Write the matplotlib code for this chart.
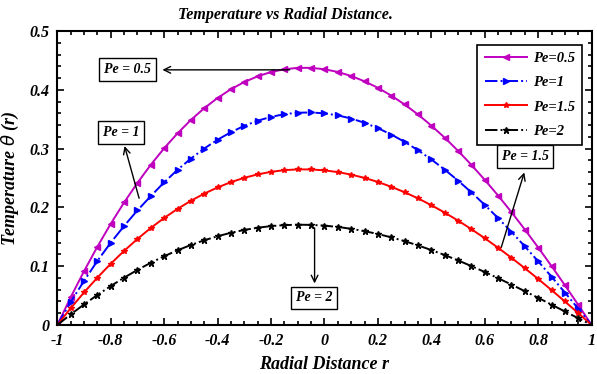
import numpy as np
import matplotlib
matplotlib.use('Agg')
import matplotlib.pyplot as plt
from matplotlib.font_manager import FontProperties

# radial positions (step 0.05)
r = np.round(np.arange(-1.0, 1.0001, 0.05), 2)

theta_pe05 = [0.0, 0.0471, 0.0915, 0.1332, 0.1722, 0.2084, 0.2418, 0.2726, 0.3007, 0.3260,
              0.3488, 0.3688, 0.3862, 0.4011, 0.4133, 0.4230, 0.4303, 0.4350, 0.4374, 0.4374,
              0.4350, 0.4304, 0.4235, 0.4145, 0.4034, 0.3902, 0.3751, 0.3581, 0.3392, 0.3186,
              0.2963, 0.2723, 0.2469, 0.2201, 0.1919, 0.1624, 0.1318, 0.1002, 0.0676, 0.0342, 0.0]
theta_pe1 = [0.0, 0.0390, 0.0750, 0.1090, 0.1400, 0.1685, 0.1950, 0.2193, 0.2427, 0.2640,
             0.2831, 0.3002, 0.3152, 0.3280, 0.3388, 0.3475, 0.3540, 0.3586, 0.3611, 0.3615,
             0.3600, 0.3565, 0.3512, 0.3439, 0.3348, 0.3240, 0.3115, 0.2973, 0.2816, 0.2643,
             0.2456, 0.2256, 0.2043, 0.1818, 0.1583, 0.1337, 0.1083, 0.0821, 0.0552, 0.0278, 0.0]
theta_pe15 = [0.0, 0.0285, 0.0554, 0.0806, 0.1042, 0.1261, 0.1464, 0.1651, 0.1821, 0.1975,
              0.2113, 0.2235, 0.2340, 0.2430, 0.2504, 0.2562, 0.2605, 0.2634, 0.2647, 0.2646,
              0.2630, 0.2601, 0.2558, 0.2502, 0.2433, 0.2351, 0.2258, 0.2154, 0.2038, 0.1912,
              0.1776, 0.1630, 0.1476, 0.1313, 0.1143, 0.0966, 0.0783, 0.0594, 0.0400, 0.0202, 0.0]
theta_pe2 = [0.0, 0.0180, 0.0350, 0.0511, 0.0663, 0.0805, 0.0937, 0.1059, 0.1170, 0.1271,
             0.1361, 0.1441, 0.1510, 0.1569, 0.1617, 0.1655, 0.1682, 0.1699, 0.1706, 0.1703,
             0.1690, 0.1668, 0.1636, 0.1596, 0.1548, 0.1491, 0.1426, 0.1354, 0.1275, 0.1190,
             0.1099, 0.1002, 0.0901, 0.0796, 0.0687, 0.0575, 0.0462, 0.0346, 0.0230, 0.0115, 0.0]

xticks = [-1, -0.8, -0.6, -0.4, -0.2, 0, 0.2, 0.4, 0.6, 0.8, 1]
xticklabels = ['-1', '-0.8', '-0.6', '-0.4', '-0.2', '0', '0.2', '0.4', '0.6', '0.8', '1']
yticks = [0, 0.1, 0.2, 0.3, 0.4, 0.5]
yticklabels = ['0', '0.1', '0.2', '0.3', '0.4', '0.5']

font = dict(family='Liberation Serif', weight='bold', style='italic')

fig = plt.figure(figsize=(5.97, 3.74), dpi=100)
ax = fig.add_axes([0.096, 0.131, 0.895, 0.786])

ax.plot(r, theta_pe05, '-', color='#BF00BF', marker='<', markersize=4, lw=1.4, label='Pe=0.5')
ax.plot(r, theta_pe1, '-.', color='#0000FF', marker='>', markersize=4, lw=1.4, label='Pe=1')
ax.plot(r, theta_pe15, '-', color='#FF0000', marker='*', markersize=4, lw=1.4, label='Pe=1.5')
ax.plot(r, theta_pe2, '-.', color='black', marker='*', markersize=4.5, lw=1.4, label='Pe=2')

ax.set_xlim(-1, 1)
ax.set_ylim(0, 0.5)
ax.set_xticks(xticks)
ax.set_xticklabels(xticklabels)
ax.set_yticks(yticks)
ax.set_yticklabels(yticklabels)
ax.set_xticks(np.arange(-1, 1.001, 0.05), minor=True)
ax.set_yticks(np.arange(0, 0.501, 0.02), minor=True)
ax.tick_params(which='both', direction='in', top=True, right=True, width=1.2)
ax.tick_params(which='major', length=5, pad=6)
ax.tick_params(which='minor', length=3)
for lbl in ax.get_xticklabels() + ax.get_yticklabels():
    lbl.set_fontproperties(FontProperties(size=11.5, **font))
for sp in ax.spines.values():
    sp.set_linewidth(1.5)

ax.set_xlabel('Radial Distance r', fontsize=13, labelpad=5, **font)
ax.set_ylabel(r'Temperature $\theta$ (r)', fontsize=13, **font)
ax.yaxis.set_label_coords(-0.068, 0.5)
fig.text(285 / 597, 1 - 15 / 374, 'Temperature vs Radial Distance.', fontsize=11.5,
         ha='center', va='center', **font)

leg = ax.legend(loc='upper right', prop=FontProperties(size=10.5, **font),
                fancybox=False, edgecolor='black', framealpha=1, handlelength=2.9,
                labelspacing=0.75, borderpad=0.5, handletextpad=0.4,
                bbox_to_anchor=(0.996, 0.978))
leg.get_frame().set_linewidth(1.2)

box = dict(boxstyle='square,pad=0.35', fc='white', ec='black', lw=1)
arrow = dict(arrowstyle='->', color='black', lw=1, mutation_scale=12)

ax.text(-0.736, 0.434, 'Pe = 0.5', fontsize=10, ha='center', va='center', bbox=box, **font)
ax.annotate('', xy=(-0.617, 0.434), xytext=(-0.12, 0.434), arrowprops=arrow)

ax.text(-0.762, 0.328, 'Pe = 1', fontsize=10, ha='center', va='center', bbox=box, **font)
ax.annotate('', xy=(-0.751, 0.309), xytext=(-0.691, 0.211), arrowprops=arrow)

ax.text(0.751, 0.286, 'Pe = 1.5', fontsize=10, ha='center', va='center', bbox=box, **font)
ax.annotate('', xy=(0.751, 0.264), xytext=(0.659, 0.128), arrowprops=arrow)

ax.text(-0.04, 0.046, 'Pe = 2', fontsize=10, ha='center', va='center', bbox=box, **font)
ax.annotate('', xy=(-0.037, 0.066), xytext=(-0.037, 0.170), arrowprops=arrow)

fig.savefig('out.png', dpi=100)
